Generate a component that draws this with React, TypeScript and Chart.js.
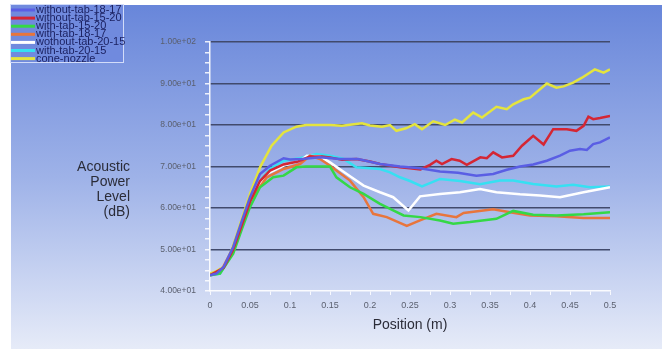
import React, { useEffect, useRef } from "react";
import { Chart, registerables } from "chart.js";
Chart.register(...registerables);

const seriesNames = [
  "without-tab-18-17",
  "without-tab-15-20",
  "with-tab-15-20",
  "with-tab-18-17",
  "wothout-tab-20-15",
  "with-tab-20-15",
  "cone-nozzle",
];
const seriesColors = ["#5a5ee4", "#d42634", "#34d846", "#e8753c", "#ffffff", "#36e0f2", "#e4e43e"];

const blueX = [0, 0.008, 0.017, 0.029, 0.04, 0.05, 0.0625, 0.075, 0.092, 0.1, 0.115, 0.1375, 0.1625, 0.185, 0.2125, 0.2375, 0.2625, 0.2875, 0.31, 0.333, 0.354, 0.371, 0.3875, 0.404, 0.421, 0.4375, 0.45, 0.4625, 0.471, 0.479, 0.4875, 0.5];
const blueY = [43.8, 44.2, 45.8, 50.6, 57, 62.6, 68.2, 70.2, 72, 71.7, 71.8, 72.2, 71.8, 71.8, 70.6, 70, 69.6, 68.8, 68.5, 67.8, 68.2, 69.2, 70, 70.5, 71.4, 72.6, 73.8, 74.2, 74, 75.4, 75.8, 77];

const redX = [0, 0.017, 0.029, 0.04, 0.05, 0.0625, 0.075, 0.092, 0.11, 0.125, 0.14, 0.15, 0.165, 0.183, 0.2, 0.2125, 0.2375, 0.25, 0.263, 0.275, 0.283, 0.29, 0.302, 0.312, 0.321, 0.338, 0.346, 0.354, 0.365, 0.379, 0.39, 0.404, 0.417, 0.429, 0.446, 0.458, 0.467, 0.473, 0.479, 0.4875, 0.5];
const redY = [43.8, 45.6, 50, 56, 61.5, 66.5, 69, 70.5, 71.2, 72.4, 72.4, 72.2, 71.6, 71.8, 71.2, 70.6, 69.8, 69.6, 69.3, 70.4, 71.4, 70.6, 71.8, 71.4, 70.4, 72.2, 72, 73.4, 72.2, 72.6, 75, 77.4, 75.3, 79, 79, 78.6, 79.8, 82, 81.4, 81.7, 82.2];

const greenX = [0, 0.0125, 0.029, 0.04, 0.05, 0.0625, 0.079, 0.092, 0.108, 0.12, 0.15, 0.158, 0.175, 0.192, 0.2125, 0.229, 0.242, 0.263, 0.2875, 0.304, 0.325, 0.358, 0.371, 0.379, 0.404, 0.433, 0.467, 0.5];
const greenY = [43.8, 44.2, 49, 55, 60.2, 65, 67.4, 67.8, 69.8, 70, 70, 67.4, 65, 63.4, 61, 59.4, 58.2, 57.8, 57, 56.2, 56.6, 57.4, 58.6, 59.3, 58.4, 58.2, 58.5, 59];

const orangeX = [0, 0.0125, 0.029, 0.04, 0.05, 0.071, 0.092, 0.1125, 0.125, 0.1375, 0.15, 0.175, 0.192, 0.204, 0.221, 0.246, 0.2625, 0.283, 0.308, 0.317, 0.354, 0.375, 0.4, 0.433, 0.467, 0.5];
const orangeY = [43.8, 44.4, 50.4, 56.5, 61.8, 67.4, 69.4, 70.6, 72.6, 71.8, 70.2, 66.6, 62.6, 58.6, 57.8, 55.7, 57, 58.6, 57.8, 58.8, 59.7, 59, 58.2, 58, 57.6, 57.6];

const whiteX = [0, 0.0125, 0.029, 0.04, 0.05, 0.071, 0.092, 0.1125, 0.121, 0.1375, 0.15, 0.171, 0.192, 0.2125, 0.229, 0.248, 0.2625, 0.2875, 0.3125, 0.3375, 0.358, 0.3875, 0.4125, 0.4375, 0.467, 0.5];
const whiteY = [43.8, 44.4, 50, 56.5, 61.8, 68.2, 70.2, 71.4, 72.6, 72.4, 71, 68.2, 65.4, 63.8, 62.6, 59.4, 62.8, 63.4, 63.8, 64.6, 63.8, 63.3, 63, 62.6, 63.8, 65];

const cyanX = [0, 0.0125, 0.029, 0.04, 0.05, 0.0625, 0.075, 0.092, 0.1125, 0.133, 0.15, 0.167, 0.183, 0.2, 0.2125, 0.225, 0.2375, 0.25, 0.265, 0.2875, 0.3125, 0.3375, 0.3625, 0.379, 0.404, 0.433, 0.454, 0.475, 0.5];
const cyanY = [43.8, 44.2, 49.4, 55.5, 61, 66.6, 69.4, 71.4, 72, 73, 72.6, 71.8, 69.8, 69.6, 69.4, 68.6, 67.4, 66.5, 65.2, 67, 66.5, 65.7, 66.6, 66.6, 65.8, 65.2, 65.6, 65, 65.2];

const yellowX = [0, 0.008, 0.017, 0.027, 0.04, 0.05, 0.0625, 0.077, 0.092, 0.108, 0.12, 0.15, 0.165, 0.18, 0.19, 0.2, 0.215, 0.225, 0.233, 0.245, 0.256, 0.265, 0.279, 0.294, 0.306, 0.315, 0.329, 0.34, 0.358, 0.371, 0.379, 0.392, 0.4, 0.421, 0.433, 0.442, 0.454, 0.465, 0.481, 0.492, 0.5];
const yellowY = [44.2, 44.8, 45.8, 49.8, 57.5, 63.4, 69.8, 75, 78.2, 79.6, 80, 80, 79.8, 80.2, 80.4, 79.9, 79.6, 80, 78.6, 79.2, 80.2, 79, 80.9, 80, 81.3, 80.6, 83, 81.8, 84.4, 83.8, 85, 86.2, 86.6, 90, 89, 89.3, 90.2, 91.4, 93.4, 92.6, 93.4];

const seriesX = [blueX, redX, greenX, orangeX, whiteX, cyanX, yellowX];
const seriesY = [blueY, redY, greenY, orangeY, whiteY, cyanY, yellowY];

const yTitle = ["Acoustic", "Power", "Level", "(dB)"];
const xTitle = "Position (m)";

const fmtExp = (v: number) => {
  const e = Math.floor(Math.log10(v));
  const m = v / Math.pow(10, e);
  return m.toFixed(2) + "e" + (e >= 0 ? "+" : "-") + String(Math.abs(e)).padStart(2, "0");
};

const FONT = "'Liberation Sans', Arial, sans-serif";

const decorPlugin = {
  id: "decor",
  beforeDraw(chart: any) {
    const ctx = chart.ctx;
    ctx.save();
    ctx.fillStyle = "#ffffff";
    ctx.fillRect(0, 0, chart.width, chart.height);
    const g = ctx.createLinearGradient(0, 5, 0, 349);
    g.addColorStop(0, "rgb(104,134,218)");
    g.addColorStop(0.5, "rgb(158,178,232)");
    g.addColorStop(1, "rgb(230,235,248)");
    ctx.fillStyle = g;
    ctx.fillRect(11, 5, 651, 344);
    ctx.restore();
  },
  afterDraw(chart: any) {
    const ctx = chart.ctx;
    const area = chart.chartArea;
    ctx.save();
    // y title
    ctx.fillStyle = "#2b2c38";
    ctx.font = "14px " + FONT;
    ctx.textAlign = "right";
    ctx.textBaseline = "middle";
    yTitle.forEach((t, i) => ctx.fillText(t, 130, 167 + i * 15));
    // x title
    ctx.textAlign = "center";
    ctx.fillText(xTitle, (area.left + area.right) / 2, 325);
    // legend
    ctx.fillStyle = "rgb(112,138,222)";
    ctx.fillRect(10, 4, 114, 59);
    ctx.strokeStyle = "rgba(235,240,255,0.8)";
    ctx.lineWidth = 1;
    ctx.strokeRect(10.5, 4.5, 113, 58);
    ctx.font = "11px " + FONT;
    ctx.textAlign = "left";
    seriesNames.forEach((n, i) => {
      const y = 10 + i * 8.1;
      ctx.strokeStyle = seriesColors[i];
      ctx.lineWidth = 3;
      ctx.beginPath();
      ctx.moveTo(11, y);
      ctx.lineTo(35, y);
      ctx.stroke();
      ctx.fillStyle = "#1c2262";
      ctx.fillText(n, 36, y);
    });
    ctx.restore();
  },
};

export default function App() {
  const ref = useRef<HTMLCanvasElement | null>(null);
  useEffect(() => {
    if (!ref.current) return;
    const datasets = seriesNames.map((name, i) => ({
      label: name,
      data: seriesX[i].map((x, j) => ({ x, y: seriesY[i][j] })),
      borderColor: seriesColors[i],
      backgroundColor: seriesColors[i],
      borderWidth: 2.5,
      pointRadius: 0,
      tension: 0,
      fill: false,
    }));
    const chart = new Chart(ref.current, {
      type: "line",
      data: { datasets },
      plugins: [decorPlugin],
      options: {
        animation: false,
        responsive: false,
        layout: { padding: { left: 0, right: 54, top: 42, bottom: 0 } },
        plugins: { legend: { display: false }, tooltip: { enabled: false } },
        scales: {
          x: {
            type: "linear",
            min: 0,
            max: 0.5,
            afterFit: (s: any) => { s.height = 58; },
            ticks: {
              stepSize: 0.025,
              autoSkip: false,
              maxRotation: 0,
              padding: 5,
              color: "#5a5f6e",
              font: { family: FONT, size: 9 },
              callback: (v: any) => {
                const n = Number(v);
                return Math.abs(n * 20 - Math.round(n * 20)) < 1e-6 ? String(Math.round(n * 100) / 100) : "";
              },
            },
            grid: { color: "rgba(0,0,0,0)", tickColor: "rgba(255,255,255,0.85)", tickLength: 4 },
            border: { display: true, color: "rgba(255,255,255,0.9)", width: 1.5 },
          },
          y: {
            type: "linear",
            min: 40,
            max: 100,
            afterFit: (s: any) => { s.width = 210; },
            ticks: {
              stepSize: 2.5,
              autoSkip: false,
              padding: 9,
              color: "#5a5f6e",
              font: { family: FONT, size: 8.5 },
              callback: (v: any) => {
                const n = Number(v);
                return Math.abs(n % 10) < 1e-6 ? fmtExp(n) : "";
              },
            },
            grid: {
              color: (c: any) => (c.tick && Math.abs(c.tick.value % 10) < 1e-6 && c.tick.value > 40 ? "#414a6c" : "rgba(0,0,0,0)"),
              lineWidth: 1.5,
              tickColor: "rgba(255,255,255,0.85)",
              tickLength: 5,
            },
            border: { display: true, color: "rgba(255,255,255,0.9)", width: 1.5 },
          },
        },
      },
    });
    return () => chart.destroy();
  }, []);
  return (
    <div style={{ position: "absolute", left: 0, top: 0, width: 664, height: 349 }}>
      <canvas ref={ref} width={664} height={349} style={{ display: "block", width: 664, height: 349 }} />
    </div>
  );
}
